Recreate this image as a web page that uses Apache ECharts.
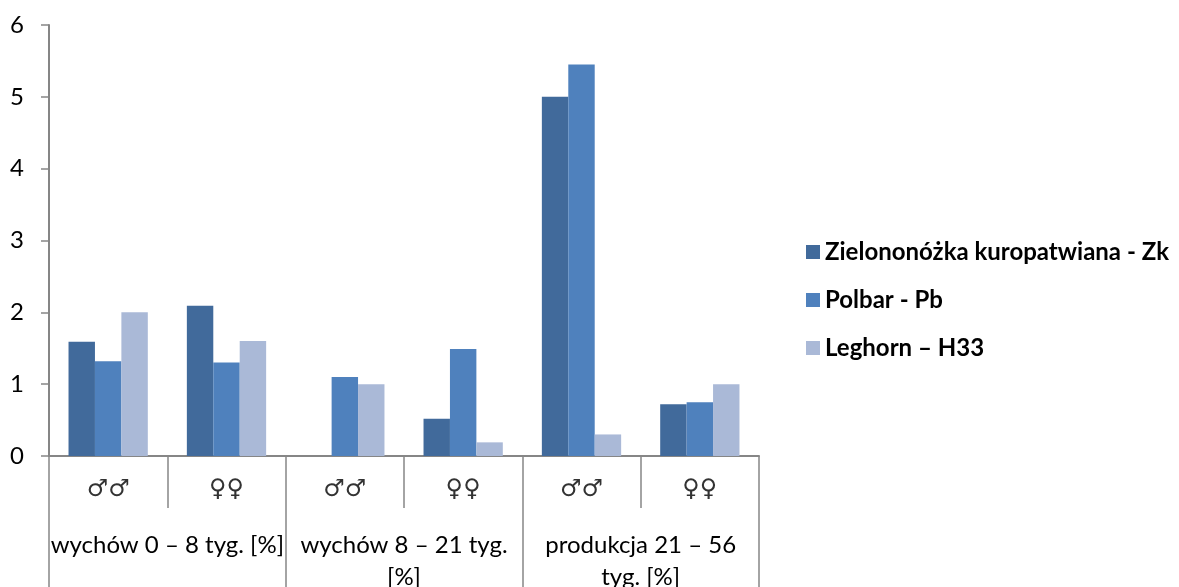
<!DOCTYPE html>
<html>
<head>
<meta charset="utf-8">
<script src="https://cdn.jsdelivr.net/npm/echarts@6/dist/echarts.min.js"></script>
<style>
  html, body { margin: 0; padding: 0; background: #fff; }
  #chart { width: 1179px; height: 587px; }
</style>
</head>
<body>
<div id="chart"></div>
<script>
// Sex categories (inner axis row) and rearing / production periods (outer row)
const categories = ['♂♂', '♀♀', '♂♂', '♀♀', '♂♂', '♀♀'];
const periods = ['wychów 0 – 8 tyg. [%]', 'wychów 8 – 21 tyg.\n[%]', 'produkcja 21 – 56\ntyg. [%]'];
const seriesNames = ['Zielononóżka kuropatwiana - Zk', 'Polbar - Pb', 'Leghorn – H33'];

// Values per breed, one per sex/period category
const zk = [1.59, 2.09, null, 0.52, 5.0, 0.72];
const pb = [1.32, 1.30, 1.1, 1.49, 5.45, 0.75];
const h33 = [2.0, 1.6, 1.0, 0.19, 0.3, 1.0];

const yTicks = { min: 0, max: 6, interval: 1 };

const colors = ['#416A9B', '#4F81BD', '#AAB9D7'];
const font = 'Lato, "Noto Sans", sans-serif';
const symbolFont = '"DejaVu Sans ExtraLight", "DejaVu Sans", sans-serif';
const axisGray = '#868686';

const chart = echarts.init(document.getElementById('chart'));

const values = [zk, pb, h33];

chart.setOption({
  animation: false,
  backgroundColor: '#fff',
  color: colors,
  grid: { left: 49, right: 420, top: 25, bottom: 131, containLabel: false, outerBoundsMode: 'none' },
  legend: {
    orient: 'vertical',
    left: 801,
    top: 235,
    itemWidth: 14,
    itemHeight: 14,
    itemGap: 24,
    icon: 'rect',
    textStyle: { fontFamily: font, fontWeight: 'bold', fontSize: 24, color: '#000', lineHeight: 24 },
    data: seriesNames
  },
  xAxis: [
    {
      type: 'category',
      data: categories,
      position: 'bottom',
      offset: 0,
      axisLine: { show: true, lineStyle: { color: axisGray, width: 2 } },
      axisTick: { show: true, interval: 0, length: 52, lineStyle: { color: axisGray, width: 1.5 } },
      axisLabel: { interval: 0, fontFamily: symbolFont, fontSize: 24, color: '#333', margin: 22 }
    },
    {
      type: 'category',
      data: periods,
      position: 'bottom',
      offset: 0,
      axisLine: { show: false },
      axisTick: { show: true, interval: 0, length: 140, lineStyle: { color: axisGray, width: 1.5 } },
      axisLabel: {
        interval: 0, fontFamily: font, fontSize: 24, color: '#000',
        margin: 73, verticalAlign: 'top', lineHeight: 32
      }
    }
  ],
  yAxis: {
    type: 'value',
    min: yTicks.min,
    max: yTicks.max,
    interval: yTicks.interval,
    axisLine: { show: true, lineStyle: { color: axisGray, width: 2 } },
    axisTick: { show: true, length: 8, lineStyle: { color: axisGray, width: 1.5 } },
    splitLine: { show: false },
    axisLabel: { fontFamily: font, fontSize: 24, color: '#000', margin: 25 }
  },
  series: seriesNames.map((name, i) => ({
    name,
    type: 'bar',
    xAxisIndex: 0,
    data: values[i],
    barGap: '0%',
    barCategoryGap: '33%',
    itemStyle: { color: colors[i] }
  }))
});
</script>
</body>
</html>
